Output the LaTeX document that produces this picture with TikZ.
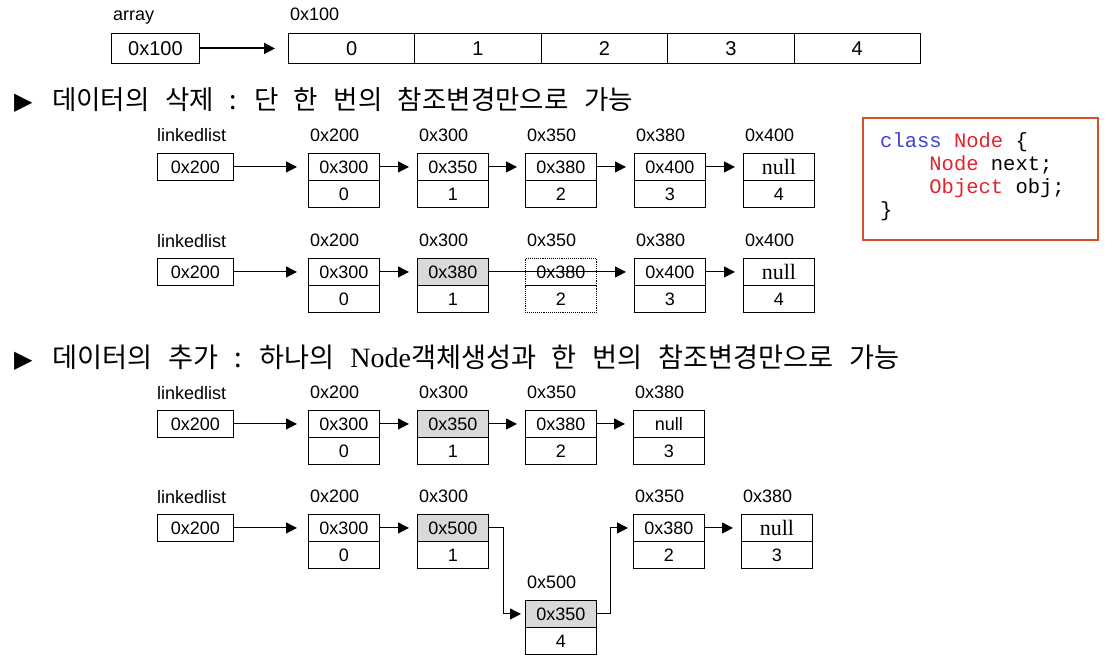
\documentclass[tikz,border=0pt]{standalone}
\usepackage{fontspec}
\setmainfont{Liberation Sans}
\newfontfamily\krfont[WordSpace=2.6]{Noto Sans CJK KR}
\newfontfamily\serfont{Liberation Serif}
\newfontfamily\codefont{Liberation Mono}
\newfontfamily\symfont{DejaVu Sans}
\usetikzlibrary{arrows.meta}
\definecolor{shadegray}{gray}{0.85}
\definecolor{codeblue}{RGB}{64,64,215}
\definecolor{codered}{RGB}{225,35,45}
\definecolor{boxred}{RGB}{215,80,40}
\tikzset{
  cell/.style={draw, line width=0.9pt, minimum width=71pt, minimum height=27pt, inner sep=0pt, anchor=north west, font=\fontsize{18}{18}\selectfont},
  acell/.style={draw, line width=0.9pt, minimum width=126.4pt, minimum height=30pt, inner sep=0pt, anchor=north west, font=\fontsize{20}{20}\selectfont},
  lbl/.style={anchor=base west, inner sep=0pt, font=\fontsize{18}{18}\selectfont},
  arr/.style={-{Triangle[length=11pt,width=11pt]}, line width=1pt, shorten >=8pt},
  shaded/.style={fill=shadegray},
  ghost/.style={densely dotted},
  heading/.style={anchor=base west, inner sep=0pt, font=\krfont\fontsize{26.5}{26.5}\selectfont},
  codeline/.style={anchor=base west, inner sep=0pt, font=\codefont\fontsize{20.5}{20.5}\selectfont}
}
\newcommand\nullt{{\serfont\fontsize{22}{22}\selectfont null}}
% name, x, y(top), top text, bottom text, label, top style, both style
\newcommand\LN[8]{%
  \node[cell,#8,#7] (#1t) at (#2,#3) {#4};
  \node[cell,#8] (#1b) at (#2,#3+27) {#5};
  \node[lbl] (#1l) at (#2+2,#3-12) {#6};
}
\begin{document}
\begin{tikzpicture}[x=1pt,y=-1pt]
\useasboundingbox (0,0) rectangle (1105,659);

% ---- array ----
\node[lbl] (arrl) at (113,20) {array};
\node[acell, minimum width=88pt] (arrp) at (111,33) {0x100};
\node[lbl] (al) at (290,20) {0x100};
\foreach \i in {0,...,4}{
  \node[acell] (a\i) at ({288+126.4*\i},33) {\i};
}
\draw[arr, line width=2pt, shorten >=13pt] (arrp.east) -- (a0.west);

% ---- heading 1 ----
\node[anchor=base west, inner sep=0pt, font=\symfont\fontsize{24}{24}\selectfont] (h1s) at (14,109) {▶};
\node[heading] (h1) at (52,109) {데이터의 삭제 : 단 한 번의 참조변경만으로 가능};

% ---- deletion row 1 ----
\node[cell, minimum width=76pt] (d1p) at (157,153) {0x200};
\node[lbl] (d1pl) at (157,141) {linkedlist};
\LN{d1a}{308}{153}{0x300}{0}{0x200}{}{}
\LN{d1b}{417}{153}{0x350}{1}{0x300}{}{}
\LN{d1c}{525}{153}{0x380}{2}{0x350}{}{}
\LN{d1d}{634}{153}{0x400}{3}{0x380}{}{}
\LN{d1e}{743}{153}{\nullt}{4}{0x400}{}{}
\draw[arr, shorten >=11pt] (d1p.east) -- (d1at.west);
\draw[arr] (d1at.east) -- (d1bt.west);
\draw[arr] (d1bt.east) -- (d1ct.west);
\draw[arr] (d1ct.east) -- (d1dt.west);
\draw[arr] (d1dt.east) -- (d1et.west);

% ---- deletion row 2 ----
\node[cell, minimum width=76pt] (d2p) at (157,258) {0x200};
\node[lbl] (d2pl) at (157,247) {linkedlist};
\LN{d2a}{308}{258}{0x300}{0}{0x200}{}{}
\LN{d2b}{417}{258}{0x380}{1}{0x300}{shaded}{}
\LN{d2c}{525}{258}{0x380}{2}{0x350}{}{ghost}
\LN{d2d}{634}{258}{0x400}{3}{0x380}{}{}
\LN{d2e}{743}{258}{\nullt}{4}{0x400}{}{}
\draw[arr, shorten >=11pt] (d2p.east) -- (d2at.west);
\draw[arr] (d2at.east) -- (d2bt.west);
\draw[arr] (d2bt.east) -- (d2dt.west);
\draw[arr] (d2dt.east) -- (d2et.west);

% ---- code box ----
\draw[boxred, line width=2pt] (863,118) rectangle (1098,240);
\node[codeline] (c1) at (880,147) {\textcolor{codeblue}{class} \textcolor{codered}{Node} \{};
\node[codeline] (c2) at (880,170) {\phantom{xxxx}\textcolor{codered}{Node} next;};
\node[codeline] (c3) at (880,193) {\phantom{xxxx}\textcolor{codered}{Object} obj;};
\node[codeline] (c4) at (880,216) {\}};

% ---- heading 2 ----
\node[anchor=base west, inner sep=0pt, font=\symfont\fontsize{24}{24}\selectfont] (h2s) at (14,367) {▶};
\node[heading, font=\krfont\fontsize{27.2}{27.2}\selectfont] (h2) at (52,367) {데이터의 추가 : 하나의 {\serfont\fontsize{28}{28}\selectfont Node}객체생성과 한 번의 참조변경만으로 가능};

% ---- insertion row 1 ----
\node[cell, minimum width=76pt] (i1p) at (157,410) {0x200};
\node[lbl] (i1pl) at (157,399) {linkedlist};
\LN{i1a}{308}{410}{0x300}{0}{0x200}{}{}
\LN{i1b}{417}{410}{0x350}{1}{0x300}{shaded}{}
\LN{i1c}{525}{410}{0x380}{2}{0x350}{}{}
\LN{i1d}{633}{410}{null}{3}{0x380}{}{}
\draw[arr, shorten >=11pt] (i1p.east) -- (i1at.west);
\draw[arr] (i1at.east) -- (i1bt.west);
\draw[arr] (i1bt.east) -- (i1ct.west);
\draw[arr] (i1ct.east) -- (i1dt.west);

% ---- insertion row 2 ----
\node[cell, minimum width=76pt] (i2p) at (157,514) {0x200};
\node[lbl] (i2pl) at (157,503) {linkedlist};
\LN{i2a}{308}{514}{0x300}{0}{0x200}{}{}
\LN{i2b}{417}{514}{0x500}{1}{0x300}{shaded}{}
\LN{i2x}{525}{600}{0x350}{4}{0x500}{shaded}{}
\LN{i2c}{633}{514}{0x380}{2}{0x350}{}{}
\LN{i2d}{741}{514}{\nullt}{3}{0x380}{}{}
\draw[arr, shorten >=11pt] (i2p.east) -- (i2at.west);
\draw[arr] (i2at.east) -- (i2bt.west);
\draw[arr, shorten >=4pt] (i2bt.east) -- ++(15,0) |- (i2xt.west);
\draw[arr, shorten >=5pt] (i2xt.east) -- ++(14,0) |- (i2ct.west);
\draw[arr] (i2ct.east) -- (i2dt.west);
\end{tikzpicture}
\end{document}
